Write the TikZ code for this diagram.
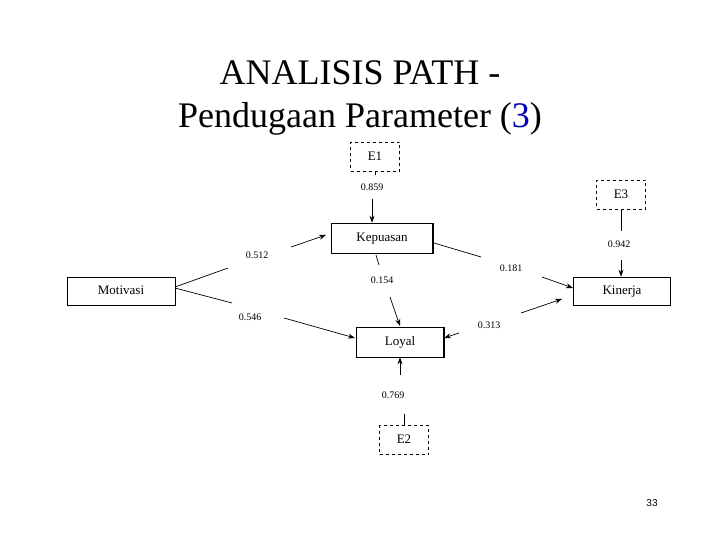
\documentclass[tikz,border=0pt]{standalone}
\usepackage{fontspec}
\setmainfont{Liberation Serif}
\newfontfamily\numfont{Liberation Sans}
\usetikzlibrary{arrows.meta}
\begin{document}
\begin{tikzpicture}[x=1pt,y=-1pt,
  box/.style={draw,line width=0.6pt,minimum width=#1,minimum height=28,inner sep=0,text height=9pt,text depth=2pt,font=\fontsize{13}{14}\selectfont},
  err/.style={draw,dashed,line width=0.6pt,minimum width=49,minimum height=29,inner sep=0,text height=9pt,text depth=2pt,font=\fontsize{13}{14}\selectfont},
  lab/.style={font=\fontsize{10}{11}\selectfont,inner sep=1pt},
  arr/.style={-{Stealth[length=7pt,width=5pt]},line width=0.7pt},
  seg/.style={line width=0.7pt}]
\useasboundingbox (0,0) rectangle (720,540);
\node[font=\fontsize{36}{43}\selectfont,align=center] (title) at (360,98) {ANALISIS PATH -\\Pendugaan Parameter ({\color{blue!70!black}3})};
\node[font=\fontsize{10}{12}\selectfont\numfont] (pg) at (652,503) {33};
\node[box=101,minimum height=30] (kep) at (382,238) {Kepuasan};
\node[box=108] (mot) at (121,291) {Motivasi};
\node[box=97] (kin) at (622,291) {Kinerja};
\node[box=87,minimum height=30] (loy) at (400,342) {Loyal};
\draw[line width=1.4pt] (kep.north east) -- (kep.south east) -- (kep.south west);
\draw[line width=1.4pt] (loy.north east) -- (loy.south east) -- (loy.south west);
\node[err] (e1) at (375,157) {E1};
\node[err] (e3) at (621,195) {E3};
\node[err] (e2) at (404,440) {E2};
\node[lab] (l859) at (372,187) {0.859};
\node[lab] (l942) at (619,244) {0.942};
\node[lab] (l769) at (393,395) {0.769};
\node[lab] (l512) at (257,255) {0.512};
\node[lab] (l546) at (250,317) {0.546};
\node[lab] (l154) at (382,280) {0.154};
\node[lab] (l181) at (511,268) {0.181};
\node[lab] (l313) at (489,325) {0.313};
\coordinate (a1) at (372,199); \draw[arr] (a1) -- (kep.north -| a1);
\draw[seg] (e1.south) -- ++(0,3);
\coordinate (e3e) at (621,231); \draw[seg] (e3.south) -- (e3e);
\coordinate (a3) at (621,260); \draw[arr] (a3) -- (kin.north -| a3);
\coordinate (e2e) at (404,414); \draw[seg] (e2.north) -- (e2e);
\coordinate (a2) at (400,375); \draw[arr] (a2) -- (loy.south);
\coordinate (m1) at (175,287); \coordinate (m1e) at (228,268);
\draw[seg] (m1) -- (m1e);
\coordinate (b1) at (291,247); \draw[arr] (b1) -- (326,235);
\coordinate (m2) at (175,288); \coordinate (m2e) at (232,303);
\draw[seg] (m2) -- (m2e);
\coordinate (b2) at (284,318); \draw[arr] (b2) -- (355,338);
\coordinate (k1) at (376,255); \coordinate (k1e) at (379,265); \draw[seg] (k1) -- (k1e);
\coordinate (b3) at (390,297); \draw[arr] (b3) -- (400,326);
\coordinate (k2) at (434,243); \coordinate (k2e) at (481,257); \draw[seg] (k2) -- (k2e);
\coordinate (b4) at (542,277); \draw[arr] (b4) -- (573,288);
\coordinate (c1) at (521,313); \draw[arr] (c1) -- (562,299);
\coordinate (c2) at (459,333); \draw[arr] (c2) -- (444,338);
\end{tikzpicture}
\end{document}
